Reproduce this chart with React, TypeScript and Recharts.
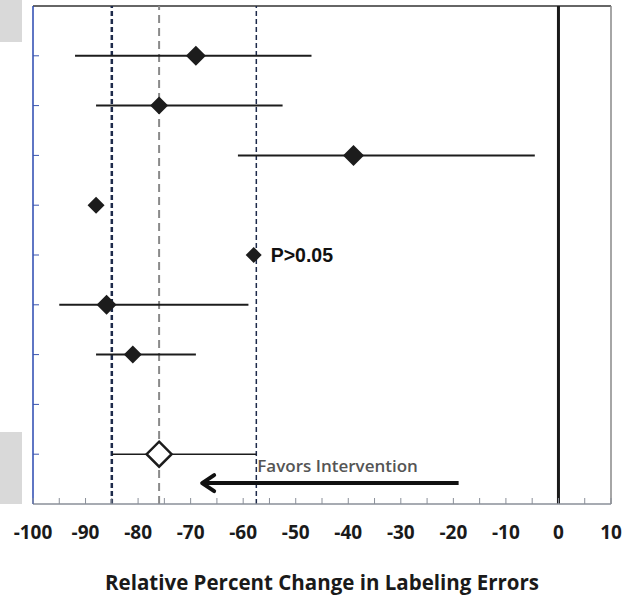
import React from 'react';
import {
  ComposedChart, Scatter, XAxis, YAxis, ReferenceLine, ReferenceDot, ErrorBar,
} from 'recharts';

// ---- data ----
const rows = [1, 2, 3, 4, 5, 6, 7];
const effects = [-69, -76, -39, -88, -58, -86, -81];
const ciLow = [-92, -88, -61, -88, -58, -95, -88];
const ciHigh = [-47, -52.5, -4.5, -88, -58, -59, -69];
const markerSize = [20, 18, 21, 17, 16, 20, 18];

const pooledRow = [9];
const pooledEffect = [-76];
const pooledLow = [-85];
const pooledHigh = [-57.5];

const xTicks = [-100, -95, -90, -85, -80, -75, -70, -65, -60, -55, -50, -45, -40, -35, -30, -25, -20, -15, -10, -5, 0, 5, 10];
const yTicks = [1, 2, 3, 4, 5, 6, 7, 8, 9];

const refLow = -85;
const refHigh = -57.5;
const refPooled = -76;
const refNull = 0;

const arrowFrom = -19;
const arrowTo = -68;
const arrowRow = 9.58;

const studyData = rows.map((r, i) => ({
  x: effects[i],
  y: r,
  err: [effects[i] - ciLow[i], ciHigh[i] - effects[i]],
  size: markerSize[i],
}));
const pooledData = pooledRow.map((r, i) => ({
  x: pooledEffect[i],
  y: r,
  err: [pooledEffect[i] - pooledLow[i], pooledHigh[i] - pooledEffect[i]],
}));

const FilledDiamond = (props: any) => {
  const { cx, cy, payload } = props;
  const h = (payload?.size ?? 16) / 2;
  return (
    <polygon
      points={`${cx},${cy - h} ${cx + h},${cy} ${cx},${cy + h} ${cx - h},${cy}`}
      fill="#1c1c1c"
    />
  );
};

const OpenDiamond = (props: any) => {
  const { cx, cy } = props;
  const h = 12.5;
  return (
    <polygon
      points={`${cx},${cy - h} ${cx + h},${cy} ${cx},${cy + h} ${cx - h},${cy}`}
      fill="#ffffff"
      stroke="#1c1c1c"
      strokeWidth={2.5}
    />
  );
};

const XTick = (props: any) => {
  const { x, y, payload } = props;
  const v = payload.value;
  const major = v % 10 === 0;
  return (
    <g>
      <line x1={x} x2={x} y1={y - 6} y2={y} stroke="#8a8f99" strokeWidth={1} />
      {major && (
        <text
          x={x}
          y={y + 28}
          dy="0.35em"
          textAnchor="middle"
          fontSize={19}
          fontWeight="bold"
          fontFamily="'Open Sans', sans-serif"
          fill="#1a1a1a"
        >
          {v}
        </text>
      )}
    </g>
  );
};

const EmptyTick = () => <g />;

const Arrow = (props: any) => {
  const { x1, y1, x2, y2 } = props;
  const left = Math.min(x1, x2);
  const right = Math.max(x1, x2);
  const y = (y1 + y2) / 2;
  return (
    <g>
      <line x1={right} x2={left + 2} y1={y} y2={y} stroke="#111" strokeWidth={4} />
      <polyline
        points={`${left + 13},${y - 8} ${left + 1},${y} ${left + 13},${y + 8}`}
        fill="none"
        stroke="#111"
        strokeWidth={4}
        strokeLinecap="round"
        strokeLinejoin="round"
      />
    </g>
  );
};

export default function App() {
  return (
    <div style={{ position: 'absolute', left: 0, top: 0, width: 639, height: 598, background: '#fff' }}>
      <div style={{ position: 'absolute', left: 0, top: 0, width: 22, height: 42, background: '#d9d9d9' }} />
      <div style={{ position: 'absolute', left: 0, top: 432, width: 22, height: 72, background: '#d9d9d9' }} />
      <ComposedChart
        width={639}
        height={598}
        margin={{ top: 6, right: 28, bottom: 4, left: 33 }}
        style={{ position: 'absolute', left: 0, top: 0, fontFamily: "'Open Sans', sans-serif" }}
      >
        <XAxis
          type="number"
          dataKey="x"
          domain={[-100, 10]}
          ticks={xTicks}
          interval={0}
          tickSize={0}
          tickMargin={0}
          tickLine={false}
          tick={<XTick />}
          axisLine={{ stroke: '#8a8f99', strokeWidth: 1.5 }}
          height={90}
          allowDataOverflow
          label={{
            value: 'Relative Percent Change in Labeling Errors',
            position: 'insideBottom',
            offset: 4,
            fontSize: 20.5,
            fontWeight: 'bold',
            fill: '#1a1a1a',
          }}
        />
        <YAxis
          type="number"
          dataKey="y"
          domain={[0, 10]}
          reversed
          ticks={yTicks}
          interval={0}
          mirror
          tick={<EmptyTick />}
          tickSize={6}
          tickLine={{ stroke: '#3a55b0', strokeWidth: 1 }}
          axisLine={{ stroke: '#2a48b0', strokeWidth: 1.5 }}
          allowDataOverflow
        />
        <ReferenceLine y={0} stroke="#333" strokeWidth={1.5} />
        <ReferenceLine x={10} stroke="#888" strokeWidth={1.5} />
        <ReferenceLine x={refNull} stroke="#1a1a1a" strokeWidth={3} />
        <ReferenceLine x={refPooled} stroke="#8a8a8a" strokeWidth={2} strokeDasharray="8 5" />
        <ReferenceLine x={refLow} stroke="#1d2a4a" strokeWidth={2.5} strokeDasharray="5 3" />
        <ReferenceLine x={refHigh} stroke="#1d2a4a" strokeWidth={1.5} strokeDasharray="5 3" />
        <ReferenceLine
          segment={[{ x: arrowFrom, y: arrowRow }, { x: arrowTo, y: arrowRow }]}
          shape={<Arrow />}
          ifOverflow="visible"
        />
        <Scatter data={studyData} shape={<FilledDiamond />} isAnimationActive={false}>
          <ErrorBar dataKey="err" direction="x" width={0} stroke="#1c1c1c" strokeWidth={2} isAnimationActive={false} />
        </Scatter>
        <Scatter data={pooledData} shape={<OpenDiamond />} isAnimationActive={false}>
          <ErrorBar dataKey="err" direction="x" width={0} stroke="#1c1c1c" strokeWidth={1.5} isAnimationActive={false} />
        </Scatter>
        <ReferenceDot
          x={-58}
          y={5}
          r={0}
          ifOverflow="visible"
          label={{
            value: 'P>0.05',
            position: 'right',
            offset: 17,
            fontSize: 19.5,
            fontWeight: 'bold',
            fill: '#111',
            fontFamily: "'Liberation Sans', Arial, sans-serif",
          }}
        />
        <ReferenceDot
          x={refHigh}
          y={9.24}
          r={0}
          ifOverflow="visible"
          label={{
            value: 'Favors Intervention',
            position: 'right',
            offset: 1,
            fontSize: 17,
            fontWeight: 600,
            fill: '#555',
          }}
        />
      </ComposedChart>
    </div>
  );
}
